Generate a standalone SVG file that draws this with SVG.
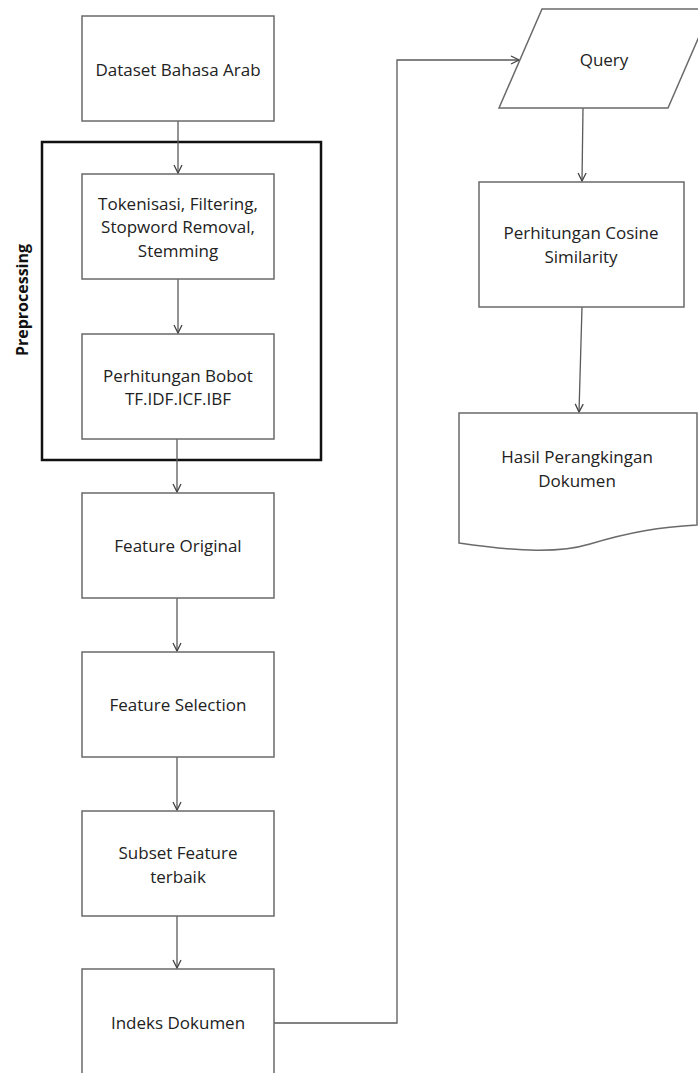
<svg xmlns="http://www.w3.org/2000/svg" width="698" height="1073" viewBox="0 0 698 1073">
<style>
.box{fill:#fff;stroke:#6a6a6a;stroke-width:1.5}
.t{font-family:"Open Sans","Liberation Sans",sans-serif;font-size:17px;fill:#222;text-anchor:middle}
.c{fill:none;stroke:#5a5a5a;stroke-width:1.3}
.grp{fill:none;stroke:#111;stroke-width:2.5}
</style>
<defs>
<marker id="ah" markerWidth="12" markerHeight="12" refX="9" refY="5" orient="auto" markerUnits="userSpaceOnUse">
<path d="M1,1 L9,5 L1,9" fill="none" stroke="#444" stroke-width="1.3"/>
</marker>
</defs>
<rect width="698" height="1073" fill="#fff"/>
<g id="preprocessing">
<rect class="grp" x="42" y="142" width="279" height="318"/>
<text transform="translate(28,300) rotate(-90)" style="font-family:'Open Sans','Liberation Sans',sans-serif;font-size:16px;font-weight:bold;fill:#111;text-anchor:middle">Preprocessing</text>
</g>
<g id="connectors">
<line class="c" x1="178" y1="121" x2="178" y2="173" marker-end="url(#ah)"/>
<line class="c" x1="178" y1="279" x2="178" y2="333" marker-end="url(#ah)"/>
<line class="c" x1="177" y1="439" x2="177" y2="492" marker-end="url(#ah)"/>
<line class="c" x1="177" y1="598" x2="177" y2="651" marker-end="url(#ah)"/>
<line class="c" x1="177" y1="757" x2="177" y2="810" marker-end="url(#ah)"/>
<line class="c" x1="177" y1="916" x2="177" y2="968" marker-end="url(#ah)"/>
<polyline class="c" points="274,1023 397,1023 397,60 519,60" marker-end="url(#ah)"/>
<line class="c" x1="583" y1="108" x2="582" y2="181" marker-end="url(#ah)"/>
<line class="c" x1="582" y1="307" x2="579" y2="412" marker-end="url(#ah)"/>
</g>
<g id="dataset">
<rect class="box" x="82" y="16" width="192" height="105"/>
<text class="t" x="178" y="76">Dataset Bahasa Arab</text>
</g>
<g id="tokenisasi">
<rect class="box" x="82" y="174" width="192" height="105"/>
<text class="t" x="178" y="210">Tokenisasi, Filtering,</text>
<text class="t" x="178" y="233">Stopword Removal,</text>
<text class="t" x="178" y="257">Stemming</text>
</g>
<g id="bobot">
<rect class="box" x="82" y="334" width="192" height="105"/>
<text class="t" x="178" y="382">Perhitungan Bobot</text>
<text class="t" x="178" y="405">TF.IDF.ICF.IBF</text>
</g>
<g id="feature-original">
<rect class="box" x="82" y="493" width="192" height="105"/>
<text class="t" x="178" y="552">Feature Original</text>
</g>
<g id="feature-selection">
<rect class="box" x="82" y="652" width="192" height="105"/>
<text class="t" x="178" y="711">Feature Selection</text>
</g>
<g id="subset">
<rect class="box" x="82" y="811" width="192" height="105"/>
<text class="t" x="178" y="859">Subset Feature</text>
<text class="t" x="178" y="883">terbaik</text>
</g>
<g id="indeks">
<rect class="box" x="82" y="969" width="192" height="110"/>
<text class="t" x="178" y="1029">Indeks Dokumen</text>
</g>
<g id="query">
<polygon class="box" points="542,9 711,9 668,108 499,108"/>
<text class="t" x="604" y="66">Query</text>
</g>
<g id="cosine">
<rect class="box" x="479" y="182" width="205" height="125"/>
<text class="t" x="581" y="239">Perhitungan Cosine</text>
<text class="t" x="581" y="263">Similarity</text>
</g>
<g id="hasil">
<path class="box" d="M459,413 L697,413 L697,525 C660,527 630,532 590,544 C560,553 520,552 459,543 Z"/>
<text class="t" x="577" y="463">Hasil Perangkingan</text>
<text class="t" x="577" y="487">Dokumen</text>
</g>
</svg>
